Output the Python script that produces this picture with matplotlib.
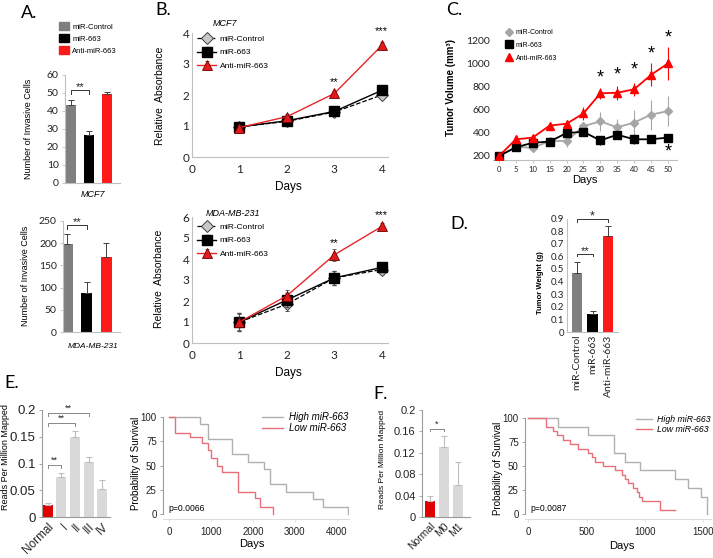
import matplotlib
matplotlib.use('Agg')
import matplotlib.pyplot as plt
import numpy as np
from matplotlib.lines import Line2D
from matplotlib.patches import Patch

W, H = 713, 558
plt.rcParams['font.family'] = ['Liberation Sans', 'DejaVu Sans']
TICKFONT = ['Lato', 'Liberation Sans', 'DejaVu Sans']

# ---------------- data ----------------
groups3 = ['miR-Control', 'miR-663', 'Anti-miR-663']
colors3 = ['#7f7f7f', '#000000', '#ff1a1a']

a_mcf7 = [43.5, 26.5, 49.5]
a_mcf7_err = [2.5, 2.3, 0.8]
a_mda = [198, 87, 168]
a_mda_err = [22, 25, 33]

b_days = [1, 2, 3, 4]
b_mcf7_ctrl = [0.97, 1.15, 1.45, 2.0]
b_mcf7_663 = [0.97, 1.17, 1.47, 2.15]
b_mcf7_anti = [0.95, 1.30, 2.05, 3.60]
b_mcf7_err = [0.12, 0.10, 0.10, 0.12]
b_mda_ctrl = [1.0, 1.85, 3.10, 3.50]
b_mda_663 = [1.0, 2.05, 3.10, 3.60]
b_mda_anti = [1.0, 2.25, 4.20, 5.55]
b_mda_err = [0.45, 0.32, 0.35, 0.2]

c_days = [0, 5, 10, 15, 20, 25, 30, 35, 40, 45, 50]
c_ctrl = [200, 280, 270, 330, 330, 460, 500, 450, 490, 560, 590]
c_ctrl_err = [0, 0, 10, 20, 50, 30, 80, 70, 110, 130, 130]
c_663 = [200, 275, 315, 325, 400, 410, 335, 385, 345, 345, 360]
c_663_err = [0, 20, 20, 25, 20, 20, 40, 30, 40, 30, 25]
c_anti = [200, 345, 360, 465, 480, 570, 745, 750, 780, 905, 1005]
c_anti_err = [0, 10, 15, 15, 20, 60, 50, 60, 55, 100, 145]
c_star_days = [30, 35, 40, 45, 50]
c_star_y = [875, 905, 950, 1085, 1225]

d_weight = [0.465, 0.145, 0.765]
d_err = [0.09, 0.025, 0.08]

e_stages = ['Normal', 'I', 'II', 'III', 'IV']
e_reads = [0.023, 0.075, 0.150, 0.102, 0.052]
e_err = [0.004, 0.008, 0.010, 0.010, 0.017]

e_high_t = [0, 730, 925, 1485, 1880, 2265, 2400, 2780, 3430, 3670, 4270]
e_high_s = [100, 92.3, 76.9, 61.5, 53.8, 46.2, 30.8, 23.1, 15.4, 7.7, 0]
e_low_t = [0, 131, 489, 768, 926, 983, 1126, 1246, 1642, 2041, 2160, 2478]
e_low_s = [100, 84, 79.5, 73, 66, 58, 50, 43.5, 23, 17, 6.8, 0]

f_groups = ['Normal', 'M0', 'M1']
f_reads = [0.029, 0.131, 0.059]
f_err = [0.010, 0.020, 0.043]

f_high_t = [0, 252, 515, 737, 829, 957, 1257, 1372, 1480, 1529]
f_high_s = [100, 90.9, 81.8, 63.6, 54.5, 45.5, 36.4, 27.3, 18.2, 0]
f_low_t = [0, 151, 214, 243, 300, 357, 429, 514, 543, 575, 643, 743, 800, 830,
           857, 900, 929, 950, 971, 1129, 1257]
f_low_s = [100, 90.9, 86.4, 81.8, 77.3, 72.7, 68.2, 63.6, 59.1, 54.5, 50.0, 45.5,
           40.9, 36.4, 31.8, 27.3, 22.7, 18.2, 13.6, 4.5, 4.5]

# ---------------- helpers ----------------
fig = plt.figure(figsize=(W / 100, H / 100), dpi=100)


def axpx(l, t, r, b):
    return fig.add_axes([l / W, 1 - b / H, (r - l) / W, (b - t) / H])


def ftext(x, y, s, **kw):
    fig.text(x / W, 1 - y / H, s, **kw)


def style_excel(ax, fs=7.5, left=True):
    for s in ['top', 'right']:
        ax.spines[s].set_visible(False)
    ax.spines['bottom'].set_color('#bfbfbf')
    ax.spines['left'].set_color('#bfbfbf')
    ax.spines['left'].set_visible(left)
    ax.tick_params(axis='both', colors='#bfbfbf', labelcolor='#222222', labelsize=fs,
                   length=2.5, width=0.6, pad=2)
    for lab in ax.get_xticklabels() + ax.get_yticklabels():
        lab.set_fontfamily(TICKFONT)


def bracket(ax, x1, x2, y, h, txt, fs, ty=None, color='#333333', lw=0.7):
    ax.plot([x1, x1, x2, x2], [y - h, y, y, y - h], color=color, lw=lw, clip_on=False)
    ax.text((x1 + x2) / 2, y if ty is None else ty, txt, ha='center', va='bottom',
            fontsize=fs, color='#222222', clip_on=False)


# ---------------- Panel A ----------------
def bar_a(ax, vals, errs, ylim, yticks):
    x = np.arange(3)
    ax.bar(x, vals, width=0.57, color=colors3, zorder=2)
    ax.errorbar(x, vals, yerr=[[0, 0, 0], errs], fmt='none', ecolor='#404040',
                elinewidth=0.7, capsize=2, capthick=0.7, zorder=3)
    ax.set_xlim(-0.333, 2.72)
    ax.set_ylim(*ylim)
    ax.set_yticks(yticks)
    ax.set_xticks([])
    style_excel(ax, fs=7.5)


axA1 = axpx(65, 75, 120, 183)
bar_a(axA1, a_mcf7, a_mcf7_err, (0, 60), range(0, 61, 10))
bracket(axA1, 0, 1, 51.5, 1.8, '**', 8, ty=50.5)
axA2 = axpx(63, 221, 120, 332)
bar_a(axA2, a_mda, a_mda_err, (0, 250), range(0, 251, 50))
axA2.set_xlim(-0.22, 2.72)
bracket(axA2, 0, 1, 241, 8, '**', 8, ty=237)

ftext(29, 129, 'Number of Invasive Cells', rotation=90, ha='center', va='center', fontsize=6.5)
ftext(26, 276, 'Number of Invasive Cells', rotation=90, ha='center', va='center', fontsize=6.5)
ftext(93, 194, 'MCF7', ha='center', va='center', fontsize=6.5, style='italic')
ftext(93, 347, 'MDA-MB-231', ha='center', va='center', fontsize=6, style='italic')
legA = axA1.legend(handles=[Patch(color=c, label=g) for c, g in zip(colors3, groups3)],
                   loc='upper left', bbox_to_anchor=(59 / W, 1 - 22 / H),
                   bbox_transform=fig.transFigure, frameon=False, fontsize=5.5,
                   handlelength=1.25, handleheight=1.25, labelspacing=0.45,
                   handletextpad=0.5, borderpad=0, borderaxespad=0)

# ---------------- Panel B ----------------
def line_b(ax, ctrl, m663, anti, err, ylim):
    ax.errorbar(b_days, ctrl, yerr=err, color='black', ls='--', lw=0.9, marker='D', ms=6,
                mfc='#c8c8c8', mec='#404040', mew=0.7, ecolor='#505050', elinewidth=0.6,
                capsize=1.5, label='miR-Control', zorder=3)
    ax.errorbar(b_days, m663, yerr=err, color='black', ls='-', lw=1.0, marker='s', ms=6.5,
                mfc='black', mec='black', ecolor='#505050', elinewidth=0.6, capsize=1.5,
                label='miR-663', zorder=4)
    ax.errorbar(b_days, anti, yerr=[e * 0.8 for e in err], color='#e8262a', ls='-', lw=1.0,
                marker='^', ms=7.5, mfc='#e31a1c', mec='#6b0000', mew=0.6, ecolor='#505050',
                elinewidth=0.6, capsize=1.5, label='Anti-miR-663', zorder=5)
    ax.set_xlim(0, 4.13)
    ax.set_ylim(*ylim)
    ax.set_xticks(range(0, 5))
    ax.set_yticks(range(0, ylim[1] + 1))
    style_excel(ax, fs=8.5)
    ax.tick_params(axis='x', length=0, pad=5)
    ax.tick_params(axis='y', length=0)


axB1 = axpx(192, 33, 388, 157)
line_b(axB1, b_mcf7_ctrl, b_mcf7_663, b_mcf7_anti, b_mcf7_err, (0, 4))
axB1.text(3, 2.43, '**', ha='center', va='center', fontsize=8, clip_on=False)
axB1.text(4, 4.05, '***', ha='center', va='center', fontsize=8, clip_on=False)
axB2 = axpx(192, 217, 388, 343)
line_b(axB2, b_mda_ctrl, b_mda_663, b_mda_anti, b_mda_err, (0, 6))
axB2.text(3, 4.75, '**', ha='center', va='center', fontsize=8, clip_on=False)
axB2.text(4, 6.1, '***', ha='center', va='center', fontsize=8, clip_on=False)
for ax, y in [(axB1, 35), (axB2, 223)]:
    h, l = ax.get_legend_handles_labels()
    ax.legend(h, l, loc='upper left', bbox_to_anchor=(197 / W, 1 - y / H),
              bbox_transform=fig.transFigure, frameon=False, fontsize=6,
              handlelength=2.3, labelspacing=0.7, handletextpad=0.4, borderpad=0,
              borderaxespad=0, numpoints=1)
ftext(288, 187, 'Days', ha='center', va='center', fontsize=8.5)
ftext(288, 373, 'Days', ha='center', va='center', fontsize=8.5)
ftext(160, 96, 'Relative  Absorbance', rotation=90, ha='center', va='center', fontsize=7.5)
ftext(159, 279, 'Relative  Absorbance', rotation=90, ha='center', va='center', fontsize=7.5)
ftext(213, 23, 'MCF7', ha='left', va='center', fontsize=6.5, style='italic')
ftext(206, 213, 'MDA-MB-231', ha='left', va='center', fontsize=6.5, style='italic')

# ---------------- Panel C ----------------
axC = axpx(493, 41, 677, 160)
axC.errorbar(c_days, c_ctrl, yerr=c_ctrl_err, color='#a6a6a6', lw=1.3, marker='D', ms=4.5,
             ecolor='#a6a6a6', elinewidth=0.8, label='miR-Control', zorder=2)
axC.errorbar(c_days, c_663, yerr=c_663_err, color='black', lw=1.3, marker='s', ms=5.5,
             ecolor='black', elinewidth=0.8, label='miR-663', zorder=3)
axC.errorbar(c_days, c_anti, yerr=c_anti_err, color='#ff0000', lw=1.3, marker='^', ms=6,
             ecolor='#ff0000', elinewidth=0.8, label='Anti-miR-663', zorder=4)
for d, y in zip(c_star_days, c_star_y):
    axC.text(d, y, '*', ha='center', va='center', fontsize=13, clip_on=False)
axC.text(50, 235, '*', ha='center', va='center', fontsize=13, clip_on=False)
axC.set_xlim(-1.78, 52.7)
axC.set_ylim(165, 1200)
axC.set_xticks(c_days)
axC.set_yticks(range(200, 1201, 200))
style_excel(axC, fs=7.5, left=False)
axC.tick_params(axis='x', labelsize=5.5)
axC.tick_params(axis='y', length=0)
hC, lC = axC.get_legend_handles_labels()
hC = [Line2D([], [], ls='none', marker=m, ms=s, color=c) for m, s, c in
      [('D', 4.5, '#a6a6a6'), ('s', 5.5, 'black'), ('^', 6, '#ff0000')]]
axC.legend(hC, lC, loc='upper left', bbox_to_anchor=(506 / W, 1 - 29 / H),
           bbox_transform=fig.transFigure, frameon=False, fontsize=5,
           handlelength=1.0, labelspacing=0.85, handletextpad=0.4, borderpad=0,
           borderaxespad=0, numpoints=1)
ftext(585, 180, 'Days', ha='center', va='center', fontsize=8)
ftext(451, 88, 'Tumor Volume (mm³)', rotation=90, ha='center', va='center', fontsize=7,
      fontweight='bold')

# ---------------- Panel D ----------------
axD = axpx(567, 218.6, 618, 332)
xd = np.arange(3)
axD.bar(xd, d_weight, width=0.65, color=['#808080', '#000000', '#ff1a1a'], zorder=2)
axD.errorbar(xd, d_weight, yerr=[[0, 0, 0], d_err], fmt='none', ecolor='#404040',
             elinewidth=0.7, capsize=2, capthick=0.7, zorder=3)
axD.set_xlim(-0.645, 2.645)
axD.set_ylim(0, 0.9)
axD.set_yticks(np.arange(0, 0.91, 0.1))
axD.set_yticklabels(['0'] + ['%.1f' % v for v in np.arange(0.1, 0.91, 0.1)])
axD.set_xticks(xd)
axD.set_xticklabels(groups3, rotation=90)
style_excel(axD, fs=7)
axD.tick_params(axis='x', length=0, labelsize=7.5)
axD.tick_params(axis='y', length=0)
bracket(axD, 0, 1, 0.62, 0.02, '**', 8, ty=0.60)
bracket(axD, 0, 2, 0.895, 0.02, '*', 9, ty=0.87)
ftext(540, 283, 'Tumor Weight (g)', rotation=90, ha='center', va='center', fontsize=5.5,
      fontweight='bold')

# ---------------- Panel E ----------------
def style_prism(ax, fs):
    for s in ['top', 'right']:
        ax.spines[s].set_visible(False)
    ax.spines['bottom'].set_color('#9a9a9a')
    ax.spines['left'].set_color('#9a9a9a')
    ax.tick_params(axis='both', colors='#9a9a9a', labelcolor='#222222', labelsize=fs,
                   length=2.5, width=0.6, pad=2)


axE = axpx(42, 410, 110, 517)
xe = np.arange(5)
axE.bar(xe, e_reads, width=0.74, color=['#e00000'] + ['#d9d9d9'] * 4, zorder=2)
axE.errorbar(xe, e_reads, yerr=[[0] * 5, e_err], fmt='none', ecolor='#bdbdbd',
             elinewidth=0.8, capsize=2, capthick=0.8, zorder=3)
axE.set_xlim(-0.44, 4.59)
axE.set_ylim(0, 0.2)
axE.set_yticks([0, 0.05, 0.1, 0.15, 0.2])
axE.set_yticklabels(['0', '0.05', '0.1', '0.15', '0.2'])
axE.set_xticks(xe)
axE.set_xticklabels(e_stages, rotation=45, ha='right', rotation_mode='anchor')
style_prism(axE, 9.5)
axE.tick_params(axis='x', length=0, labelsize=8.5, pad=3)
bracket(axE, 0, 1, 0.097, 0.005, '**', 6.5, color='#888888')
bracket(axE, 0, 2, 0.176, 0.005, '**', 6.5, color='#888888')
bracket(axE, 0, 3, 0.194, 0.005, '**', 6.5, color='#888888')
ftext(6, 457, 'Reads Per Million Mapped', rotation=90, ha='center', va='center', fontsize=6.5)


def km(ax, ht, hs, lt, ls, xlim, ylim, xticks, ptxt, leg_xy, leg_fs=7, hl=2.2):
    ax.step(ht, hs, where='post', color='#b0b0b0', lw=1.0, label='High miR-663')
    ax.step(lt, ls, where='post', color='#e8707a', lw=1.0, label='Low miR-663')
    ax.set_xlim(*xlim)
    ax.set_ylim(*ylim)
    ax.set_xticks(xticks)
    ax.set_yticks([0, 25, 50, 75, 100])
    style_prism(ax, 7)
    ax.spines['left'].set_bounds(0, 100)
    ax.spines['bottom'].set_color('#dddddd')
    ax.tick_params(axis='x', colors='#dddddd', labelcolor='#222222', pad=3)
    ax.text(0.03, 5.5, ptxt, transform=ax.get_yaxis_transform(), fontsize=6.2,
            va='center', ha='left')
    ax.legend(loc='upper left', bbox_to_anchor=(leg_xy[0] / W, 1 - leg_xy[1] / H),
              bbox_transform=fig.transFigure, frameon=False,
              prop={'style': 'italic', 'size': leg_fs}, handlelength=hl, labelspacing=0.15,
              handletextpad=0.6, borderpad=0, borderaxespad=0)


axE2 = axpx(163, 415, 349, 519)
km(axE2, e_high_t, e_high_s, e_low_t, e_low_s, (-155, 4295), (-5.15, 102.06),
   [0, 1000, 2000, 3000, 4000], 'p=0.0066', (262, 412))
ftext(136, 463, 'Probability of Survival', rotation=90, ha='center', va='center', fontsize=7)
ftext(252, 544, 'Days', ha='center', va='center', fontsize=8)

# ---------------- Panel F ----------------
axF = axpx(422, 410, 470, 517)
xf = np.arange(3)
axF.bar(xf, f_reads, width=0.78, color=['#e00000', '#d9d9d9', '#d9d9d9'], zorder=2)
axF.errorbar(xf, f_reads, yerr=[[0] * 3, f_err], fmt='none', ecolor='#bdbdbd',
             elinewidth=0.8, capsize=2, capthick=0.8, zorder=3)
axF.set_xlim(-0.57, 2.86)
axF.set_ylim(0, 0.2)
axF.set_yticks([0, 0.04, 0.08, 0.12, 0.16, 0.2])
axF.set_yticklabels(['0', '0.04', '0.08', '0.12', '0.16', '0.2'])
axF.set_xticks(xf)
axF.set_xticklabels(f_groups, rotation=45, ha='right', rotation_mode='anchor')
style_prism(axF, 8)
axF.tick_params(axis='x', length=0, labelsize=7.5, pad=3)
bracket(axF, 0, 1, 0.165, 0.005, '*', 6.5, color='#888888')
ftext(383, 459, 'Reads Per Million Mapped', rotation=90, ha='center', va='center', fontsize=6)

axF2 = axpx(525, 415, 711, 519)
km(axF2, f_high_t, f_high_s, f_low_t, f_low_s, (-28, 1566), (-5.2, 103.1),
   [0, 500, 1000, 1500], 'p=0.0087', (636, 415), leg_fs=6.3, hl=1.8)
ftext(498, 468, 'Probability of Survival', rotation=90, ha='center', va='center', fontsize=7)
ftext(622, 546, 'Days', ha='center', va='center', fontsize=8)

# ---------------- panel letters ----------------
for x, y, s in [(21, 13, 'A.'), (155, 10, 'B.'), (446, 10, 'C.'), (450, 224, 'D.'),
                (4, 383, 'E.'), (373, 394, 'F.')]:
    ftext(x, y, s, ha='left', va='center', fontsize=13, fontfamily=TICKFONT)

fig.savefig('out.png', dpi=100)
